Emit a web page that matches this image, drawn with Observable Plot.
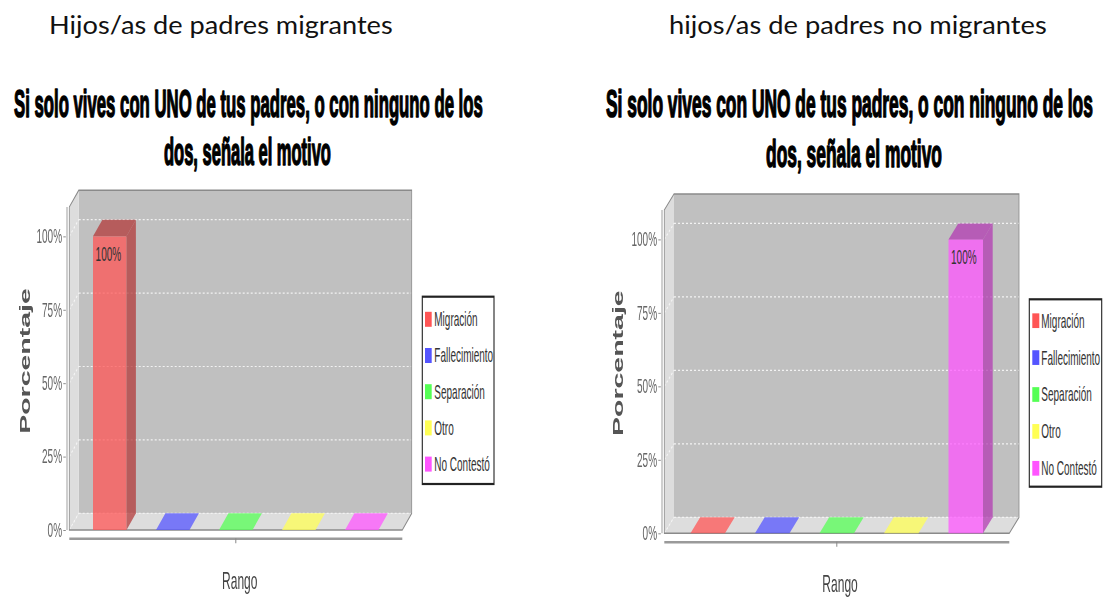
<!DOCTYPE html>
<html>
<head>
<meta charset="utf-8">
<script src="https://cdn.jsdelivr.net/npm/d3@7"></script>
<script src="https://cdn.jsdelivr.net/npm/@observablehq/plot@0.6"></script>
<style>
  html, body { margin: 0; padding: 0; background: #fff; overflow: hidden; }
  #page { position: relative; width: 1108px; height: 599px; overflow: hidden; background: #fff; }
</style>
</head>
<body>
<div id="page"></div>
<script>
// ---------- data ----------
const categories = ["Migración", "Fallecimiento", "Separación", "Otro", "No Contestó"];
const migrantesValues = [100, 0, 0, 0, 0];
const noMigrantesValues = [0, 0, 0, 0, 100];
const yTicks = [0, 25, 50, 75, 100];
const seriesColors = ["#ff5555", "#5555ff", "#55ff55", "#ffff55", "#ff55ff"];
const headers = ["Hijos/as de padres migrantes", "hijos/as de padres no migrantes"];
const titleLines = ["Si solo vives con UNO de tus padres, o con ninguno de los", "dos, señala el motivo"];
const yLabel = "Porcentaje";
const xLabel = "Rango";

// ---------- layout (real page pixels) ----------
const K = 0.5; // the chart images are squeezed horizontally
const layouts = [
  {values: migrantesValues, header: headers[0], left: 0, top: 180, width: 554, height: 419,
   x0: 69.3, x1: 402.3, marginTop: 27, marginBottom: 69, paddingInner: 0.47, paddingOuter: 0.365,
   depthX: 9.4, depthY: 16.7, bottomGap: 8.3,
   legend: {x: 422.3, y: 116.7, w: 71.7, h: 187.3, first: 22.6, step: 36.2, swX: 2.7, swW: 6.7, swH: 15, textX: 12},
   yLabelX: 25, yLabelDy: -8, xLabelDx: 3.7, xLabelDy: 51,
   headerX: [49, 393], headerBase: 33.5, title1X: [14, 483], title2X: [164, 331], title1Base: 117, title2Base: 165},
  {values: noMigrantesValues, header: headers[1], left: 554, top: 180, width: 554, height: 419,
   x0: 110.3, x1: 455.3, marginTop: 30, marginBottom: 65.7, paddingInner: 0.466, paddingOuter: 0.388,
   depthX: 9.7, depthY: 16, bottomGap: 8.4,
   legend: {x: 475.3, y: 119.3, w: 72.4, h: 187.4, first: 21.4, step: 36.9, swX: 3, swW: 7, swH: 14.7, textX: 12},
   yLabelX: 64, yLabelDy: -9, xLabelDx: 3, xLabelDy: 51,
   headerX: [669, 1047], headerBase: 33.5, title1X: [606, 1093], title2X: [766, 942], title1Base: 117, title2Base: 167}
];

const page = d3.select("#page");

// ---------- headers and titles ----------
const overlay = page.append("svg")
  .attr("width", 1108).attr("height", 180)
  .style("position", "absolute").style("left", "0px").style("top", "0px");

function fittedText(parent, str, xs, base, attrs) {
  const g = parent.append("g");
  const t = g.append("text").attr("x", 0).attr("y", 0).attr("text-anchor", "start");
  for (const k in attrs) t.attr(k, attrs[k]);
  t.text(str);
  const natural = t.node().getComputedTextLength() || 1;
  const sx = (xs[1] - xs[0]) / natural;
  g.attr("transform", `translate(${xs[0]},${base}) scale(${sx},1)`);
  return g;
}

for (const L of layouts) {
  fittedText(overlay, L.header, L.headerX, L.headerBase, {
    "font-family": "Lato, 'Open Sans', sans-serif", "font-size": 25.5, "fill": "#111"
  });
  const lines = [[L.title1X, L.title1Base], [L.title2X, L.title2Base]];
  lines.forEach(([xs, base], i) => {
    fittedText(overlay, titleLines[i], xs, base, {
      "font-family": "'Liberation Sans', Arial, sans-serif", "font-weight": 700, "font-size": 39,
      "fill": "#000", "stroke": "#000", "stroke-width": 1.6, "stroke-linejoin": "round"
    });
  });
}

// ---------- 3D helpers (function marks drawn with Plot's scales) ----------
function colorOf(scales, c) {
  return scales.color ? scales.color(c) : seriesColors[categories.indexOf(c)];
}

function sceneMark(L) {
  return (index, scales, values, dims) => {
    const sy = scales.y;
    const x0 = dims.marginLeft, x1 = dims.width - dims.marginRight;
    const y0 = sy(0), yT = dims.marginTop;
    const dx = L.depthX / K, dy = -L.depthY;
    const g = d3.create("svg:g");
    // back wall
    g.append("rect").attr("x", x0 + dx).attr("y", yT + dy)
      .attr("width", x1 - x0).attr("height", y0 - yT).attr("fill", "#c0c0c0");
    // left wall
    g.append("path").attr("d", `M${x0},${yT}L${x0 + dx},${yT + dy}L${x0 + dx},${y0 + dy}L${x0},${y0}Z`)
      .attr("fill", "#dddddd");
    // floor
    g.append("path").attr("d", `M${x0},${y0}L${x0 + dx},${y0 + dy}L${x1 + dx},${y0 + dy}L${x1},${y0}Z`)
      .attr("fill", "#dddddd");
    // gridlines
    for (const t of yTicks) {
      const y = sy(t);
      g.append("line").attr("x1", x0 + dx).attr("x2", x1 + dx).attr("y1", y + dy).attr("y2", y + dy)
        .attr("stroke", "#f2f2f2").attr("stroke-width", 1.2).attr("stroke-dasharray", "4,4");
      g.append("line").attr("x1", x0).attr("x2", x0 + dx).attr("y1", y).attr("y2", y + dy)
        .attr("stroke", "#f6f6f6").attr("stroke-width", 1.6).attr("stroke-dasharray", "3,3");
    }
    // outline
    g.append("path")
      .attr("d", `M${x0},${yT}L${x0 + dx},${yT + dy}L${x1 + dx},${yT + dy}L${x1 + dx},${y0 + dy}L${x1},${y0}L${x0},${y0}Z`)
      .attr("fill", "none").attr("stroke", "#8a8a8a").attr("stroke-width", 1.6);
    // value axis line
    g.append("line").attr("x1", x0 - 4.6).attr("x2", x0 - 4.6).attr("y1", yT).attr("y2", y0)
      .attr("stroke", "#a0a0a0").attr("stroke-width", 2);
    return g.node();
  };
}

function floorBarsMark(data, L) {
  return (index, scales) => {
    const sx = scales.x, sy = scales.y, bw = sx.bandwidth();
    const dx = L.depthX / K, dy = -L.depthY, y0 = sy(0);
    const g = d3.create("svg:g");
    for (const d of data.filter(d => d.value === 0)) {
      const x = sx(d.cat);
      g.append("path")
        .attr("d", `M${x},${y0}L${x + dx},${y0 + dy}L${x + bw + dx},${y0 + dy}L${x + bw},${y0}Z`)
        .attr("fill", colorOf(scales, d.cat)).attr("fill-opacity", 0.75);
    }
    return g.node();
  };
}

function barFacesMark(data, L) {
  return (index, scales) => {
    const sx = scales.x, sy = scales.y, bw = sx.bandwidth();
    const dx = L.depthX / K, dy = -L.depthY, y0 = sy(0);
    const g = d3.create("svg:g");
    for (const d of data.filter(d => d.value > 0)) {
      const x = sx(d.cat), yv = sy(d.value);
      const dark = d3.rgb(colorOf(scales, d.cat)).darker(1).formatHex();
      g.append("path")
        .attr("d", `M${x},${yv}L${x + dx},${yv + dy}L${x + bw + dx},${yv + dy}L${x + bw},${yv}Z`)
        .attr("fill", dark).attr("fill-opacity", 0.75);
      g.append("path")
        .attr("d", `M${x + bw},${yv}L${x + bw + dx},${yv + dy}L${x + bw + dx},${y0 + dy}L${x + bw},${y0}Z`)
        .attr("fill", dark).attr("fill-opacity", 0.75);
    }
    return g.node();
  };
}

function categoryTickMark(L) {
  return (index, scales, values, dims) => {
    const x0 = dims.marginLeft, x1 = dims.width - dims.marginRight;
    const y = scales.y(0) + L.bottomGap;
    const g = d3.create("svg:g");
    g.append("line").attr("x1", (x0 + x1) / 2).attr("x2", (x0 + x1) / 2)
      .attr("y1", y).attr("y2", y + 5).attr("stroke", "#888").attr("stroke-width", 2);
    return g.node();
  };
}

function legendMark(L) {
  return (index, scales) => {
    const lg = L.legend;
    const g = d3.create("svg:g").attr("text-anchor", "start");
    g.append("rect").attr("x", lg.x / K).attr("y", lg.y).attr("width", lg.w / K).attr("height", lg.h)
      .attr("fill", "#fff").attr("stroke", "#222").attr("stroke-width", 2.2);
    categories.forEach((c, i) => {
      const cy = lg.y + lg.first + i * lg.step;
      g.append("rect").attr("x", (lg.x + lg.swX) / K).attr("y", cy - lg.swH / 2)
        .attr("width", lg.swW / K).attr("height", lg.swH).attr("fill", colorOf(scales, c));
      g.append("text").attr("x", (lg.x + lg.textX) / K).attr("y", cy).attr("dy", "0.35em")
        .attr("text-anchor", "start").attr("fill", "#333").attr("font-size", 20).text(c);
    });
    return g.node();
  };
}

// ---------- charts ----------
for (const L of layouts) {
  const data = categories.map((c, i) => ({cat: c, value: L.values[i]}));
  const W = L.width / K;
  const x0 = L.x0 / K, x1 = L.x1 / K;
  const bw = d3.scaleBand().domain(categories).range([x0, x1])
    .paddingInner(L.paddingInner).paddingOuter(L.paddingOuter).bandwidth();

  const chart = Plot.plot({
    width: W,
    height: L.height,
    marginLeft: x0,
    marginRight: W - x1,
    marginTop: L.marginTop,
    marginBottom: L.marginBottom,
    x: {type: "band", domain: categories, paddingInner: L.paddingInner, paddingOuter: L.paddingOuter, axis: null},
    y: {domain: [0, 110]},
    color: {domain: categories, range: seriesColors},
    style: {fontFamily: "'Liberation Sans', Arial, sans-serif", fontSize: "20px", background: "transparent", overflow: "visible"},
    marks: [
      sceneMark(L),
      floorBarsMark(data, L),
      Plot.barY(data.filter(d => d.value > 0), {x: "cat", y: "value", fill: "cat", fillOpacity: 0.75}),
      barFacesMark(data, L),
      Plot.text(data.filter(d => d.value > 0), {
        x: "cat", y: "value", text: d => d.value + "%", textAnchor: "start",
        dx: -bw / 2 + 2.4 / K, dy: 18, fill: "#333", fontSize: 20
      }),
      Plot.axisY({ticks: yTicks, tickFormat: d => d + "%", tickSize: 5, tickPadding: 3, dx: -7,
        color: "#666", fontSize: 20, label: null}),
      Plot.ruleY([0], {dy: L.bottomGap, stroke: "#9a9a9a", strokeWidth: 2.4}),
      categoryTickMark(L),
      Plot.text([yLabel], {
        frameAnchor: "left", textAnchor: "middle", lineAnchor: "middle", rotate: -90, text: d => d,
        dx: (L.yLabelX - L.x0) / K, dy: L.yLabelDy,
        fontWeight: "bold", fontSize: 28.5, fill: "#555"
      }),
      Plot.text([xLabel], {
        frameAnchor: "bottom", lineAnchor: "middle", text: d => d, dx: L.xLabelDx / K, dy: L.xLabelDy,
        fontSize: 24, fill: "#444"
      }),
      legendMark(L)
    ]
  });

  const wrap = page.append("div")
    .style("position", "absolute").style("left", L.left + "px").style("top", L.top + "px")
    .style("width", W + "px").style("height", L.height + "px")
    .style("transform", `scaleX(${K})`).style("transform-origin", "0 0");
  wrap.node().appendChild(chart);
}
</script>
</body>
</html>
